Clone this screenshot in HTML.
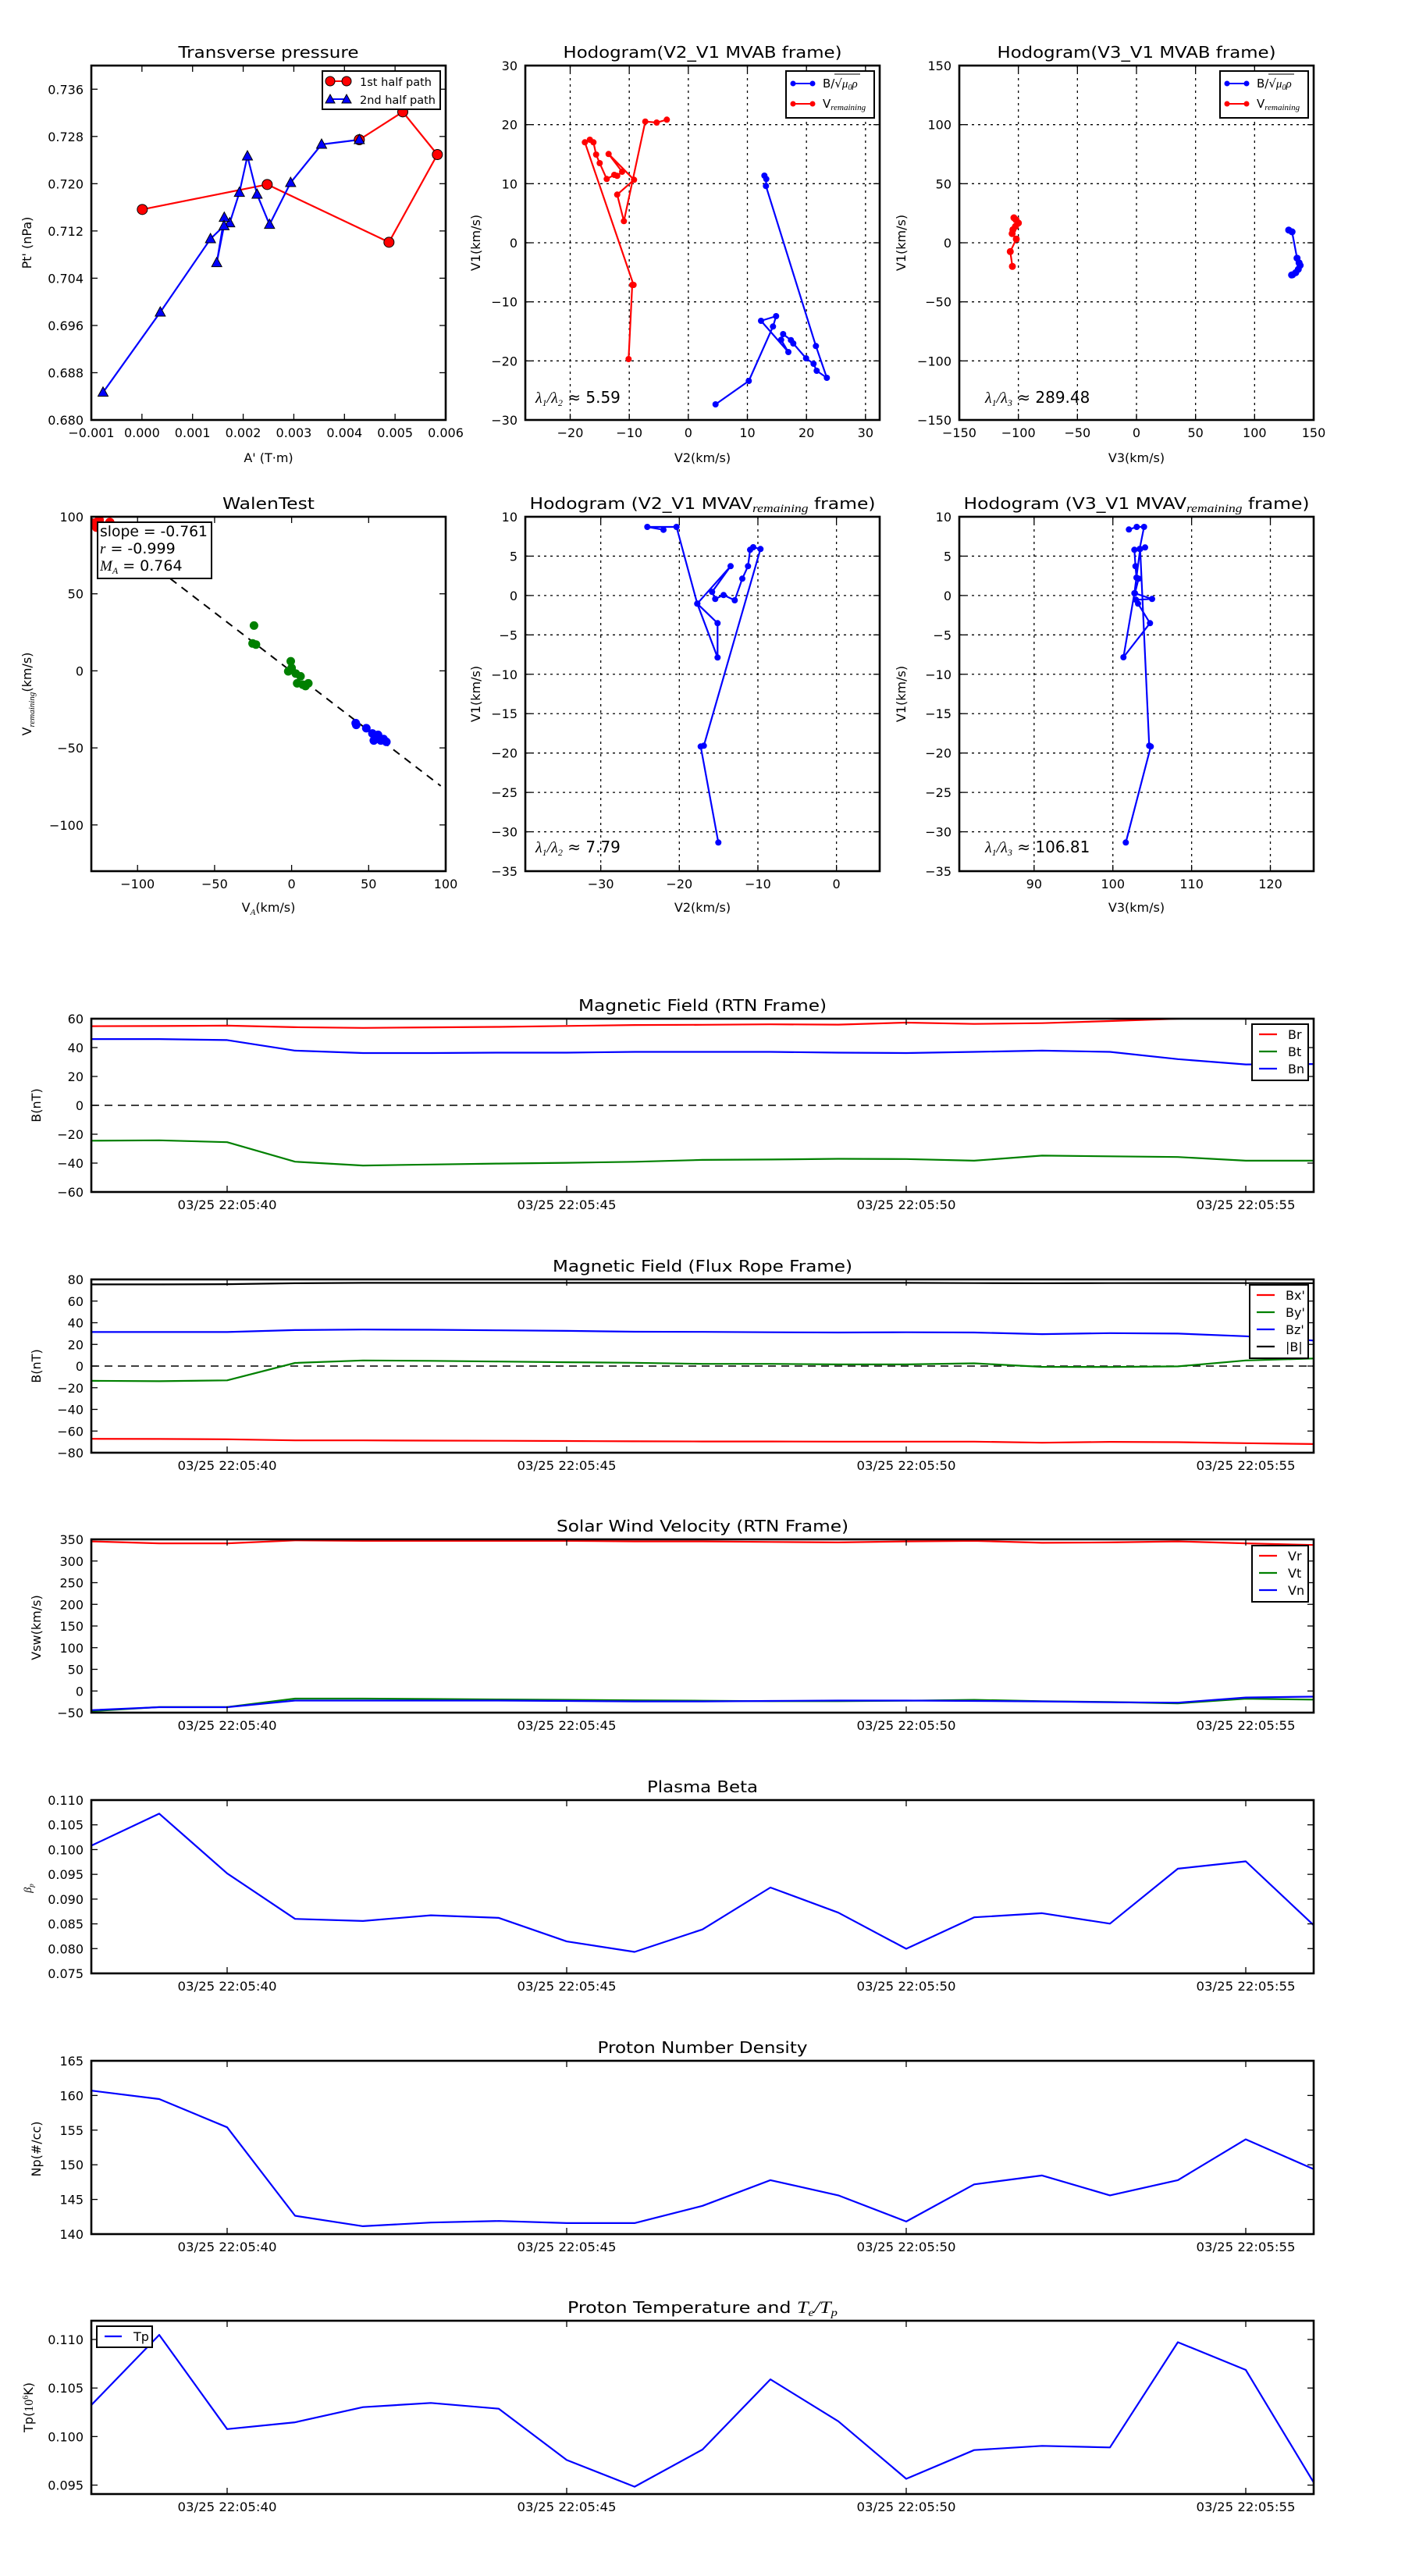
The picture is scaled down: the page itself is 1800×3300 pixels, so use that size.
<!DOCTYPE html>
<html><head><meta charset="utf-8"><style>
html,body{margin:0;padding:0;background:#fff;}
svg{display:block;font-family:"DejaVu Sans","Liberation Sans",sans-serif;}
</style></head><body>
<svg id="s" xmlns="http://www.w3.org/2000/svg" width="1800" height="3300" viewBox="0 0 1800 3300"></svg>
<script>
let S='';let cid=0;
const M='\u2212';
function f(v){return String(v).replace('-',M);}
function L(x1,y1,x2,y2,c,w,d){S+=`<line x1="${x1}" y1="${y1}" x2="${x2}" y2="${y2}" stroke="${c||'#000'}" stroke-width="${w||1}"${d?` stroke-dasharray="${d}"`:''}/>`;}
function T(x,y,t,o){o=o||{};S+=`<text x="${x}" y="${y}" font-size="${o.fs||16}" text-anchor="${o.a||'start'}"${o.tl?` textLength="${o.tl}" lengthAdjust="spacingAndGlyphs"`:''}${o.r?` transform="rotate(-90 ${x} ${y})"`:''}${o.st?` style="${o.st}"`:''}>${t}</text>`;}
function PL(pts,c,w){S+=`<polyline points="${pts.map(p=>p[0].toFixed(1)+','+p[1].toFixed(1)).join(' ')}" fill="none" stroke="${c}" stroke-width="${w||2.2}" stroke-linejoin="round"/>`;}
function clipStart(a){cid++;S+=`<clipPath id="c${cid}"><rect x="${a.x0}" y="${a.y0}" width="${a.x1-a.x0}" height="${a.y1-a.y0}"/></clipPath><g clip-path="url(#c${cid})">`;}
function clipEnd(){S+='</g>';}
function mk(a){a.fx=v=>a.x0+(v-a.xmin)/(a.xmax-a.xmin)*(a.x1-a.x0);a.fy=v=>a.y1-(v-a.ymin)/(a.ymax-a.ymin)*(a.y1-a.y0);return a;}
function frame(a){
  if(a.grid){a.xt.forEach(v=>L(a.fx(v),a.y0,a.fx(v),a.y1,'#000',1.3,'3,5'));a.yt.forEach(v=>L(a.x0,a.fy(v),a.x1,a.fy(v),'#000',1.3,'3,5'));}
}
function spines(a){
  const tl=8;
  a.xt.forEach(v=>{const x=a.fx(v);L(x,a.y1,x,a.y1-tl,'#000',1.3);L(x,a.y0,x,a.y0+tl,'#000',1.3);
    if(a.xlab)T(x,a.y1+22,a.xlab(v),{a:'middle',tl:a.xtl});});
  a.yt.forEach(v=>{const y=a.fy(v);L(a.x0,y,a.x0+tl,y,'#000',1.3);L(a.x1,y,a.x1-tl,y,'#000',1.3);
    T(a.x0-10,y+6,a.ylab(v),{a:'end'});});
  S+=`<rect x="${a.x0}" y="${a.y0}" width="${a.x1-a.x0}" height="${a.y1-a.y0}" fill="none" stroke="#000" stroke-width="2.6"/>`;
}
function title(a,t,w){T((a.x0+a.x1)/2,a.y0-10,t,{a:'middle',fs:20,tl:w});}

// ---------- Panel 1: Transverse pressure
let a1=mk({x0:117,x1:571,y0:84,y1:538,xmin:-0.001,xmax:0.006,ymin:0.680,ymax:0.740,
 xt:[-0.001,0,0.001,0.002,0.003,0.004,0.005,0.006],yt:[0.680,0.688,0.696,0.704,0.712,0.720,0.728,0.736],
 xlab:v=>f(v.toFixed(3)),ylab:v=>v.toFixed(3)});
title(a1,'Transverse pressure',231);
{const z=p=>[100+p[0]/3,60+p[1]/3];
 const red=[[247,625],[727,529],[1195,751],[1381,414],[1248,250],[1081,357]].map(z);
 const blue=[[1081,357],[936,375],[817,522],[736,683],[688,567],[651,420],[620,560],[583,677],[562,656],[533,830],[561,688],[509,738],[316,1020],[96,1328]].map(z);
 clipStart(a1);
 PL(red,'#f00',2.2);PL(blue,'#00f',2.2);
 red.forEach(p=>S+=`<circle cx="${p[0]}" cy="${p[1]}" r="6.5" fill="#f00" stroke="#000" stroke-width="1"/>`);
 blue.forEach(p=>S+=`<polygon points="${p[0]},${p[1]-7} ${p[0]-6.5},${p[1]+5} ${p[0]+6.5},${p[1]+5}" fill="#00f" stroke="#000" stroke-width="1"/>`);
 clipEnd();}
spines(a1);
S+=`<rect x="413" y="91" width="151" height="49" fill="#fff" stroke="#000" stroke-width="2"/>`;
L(423,104,444,104,'#f00',2);S+=`<circle cx="423" cy="104" r="6" fill="#f00" stroke="#000"/><circle cx="444" cy="104" r="6" fill="#f00" stroke="#000"/>`;
T(461,110,'1st half path',{fs:14,tl:92});
L(423,127,444,127,'#00f',2);S+=`<polygon points="423,121 417,132 429,132" fill="#00f" stroke="#000"/><polygon points="444,121 438,132 450,132" fill="#00f" stroke="#000"/>`;
T(461,133,'2nd half path',{fs:14,tl:97});
T(344,592,"A' (T·m)",{a:'middle'});
T(40,311,"Pt' (nPa)",{a:'middle',r:1});

function dots(pts,c,r){pts.forEach(p=>S+=`<circle cx="${p[0].toFixed(1)}" cy="${p[1].toFixed(1)}" r="${r||4}" fill="${c}"/>`);}
function hlegend(x,y){
 S+=`<rect x="${x}" y="${y}" width="113" height="60" fill="#fff" stroke="#000" stroke-width="2"/>`;
 L(x+9,y+16,x+34,y+16,'#00f',2);dots([[x+9,y+16],[x+34,y+16]],'#00f',3.5);
 S+=`<text x="${x+47}" y="${y+21}" font-size="15">B/√<tspan font-family="Liberation Serif,serif" font-style="italic">μ<tspan font-size="10" dy="3">0</tspan><tspan dy="-3">ρ</tspan></tspan></text>`;
 L(x+62,y+4,x+95,y+4,'#000',1);
 L(x+9,y+42,x+34,y+42,'#f00',2);dots([[x+9,y+42],[x+34,y+42]],'#f00',3.5);
 S+=`<text x="${x+47}" y="${y+47}" font-size="15">V<tspan font-family="Liberation Serif,serif" font-style="italic" font-size="11" dy="3">remaining</tspan></text>`;
}
function lam(x,y,k,val){S+=`<text x="${x}" y="${y}" font-size="20"><tspan font-family="Liberation Serif,serif" font-style="italic">λ<tspan font-size="12" dy="4">1</tspan><tspan dy="-4">/λ</tspan><tspan font-size="12" dy="4">${k}</tspan></tspan><tspan dy="-4"> ≈ ${val}</tspan></text>`;}

// ---------- Panel 2
let a2=mk({x0:673,x1:1127,y0:84,y1:538,xmin:-27.6,xmax:32.4,ymin:-30,ymax:30,grid:1,
 xt:[-20,-10,0,10,20,30],yt:[-30,-20,-10,0,10,20,30],xlab:v=>f(v),ylab:v=>f(v)});
title(a2,'Hodogram(V2_V1 MVAB frame)',357);
frame(a2);
{const z=p=>[660+p[0]/3,60+p[1]/3];
 const red=[[436,1200],[450,915],[455,915],[268,367],[287,357],[301,367],[311,414],[325,447],[352,508],[381,492],[392,496],[411,480],[359,412],[457,511],[392,568],[418,670],[500,287],[544,291],[583,280]].map(z);
 const blue=[[958,495],[965,508],[964,535],[1156,1150],[1198,1272],[1159,1245],[1147,1218],[1118,1197],[1069,1140],[1060,1127],[1030,1104],[1022,1126],[1050,1173],[945,1053],[1003,1035],[991,1075],[898,1284],[770,1374]].map(z);
 clipStart(a2);PL(red,'#f00',2.2);dots(red,'#f00',4);PL(blue,'#00f',2.2);dots(blue,'#00f',4);clipEnd();}
spines(a2);hlegend(1007,91);lam(686,516,2,'5.59');
T(900,592,'V2(km/s)',{a:'middle'});T(615,311,'V1(km/s)',{a:'middle',r:1});

// ---------- Panel 3
let a3=mk({x0:1229,x1:1683,y0:84,y1:538,xmin:-150,xmax:150,ymin:-150,ymax:150,grid:1,
 xt:[-150,-100,-50,0,50,100,150],yt:[-150,-100,-50,0,50,100,150],xlab:v=>f(v),ylab:v=>f(v)});
title(a3,'Hodogram(V3_V1 MVAB frame)',357);
frame(a3);
{const z=p=>[1220+p[0]/3,60+p[1]/3];
 const red=[[237,657],[245,665],[254,677],[243,690],[233,703],[230,718],[246,739],[223,787],[231,844]].map(z);
 const blue=[[1293,704],[1306,711],[1325,812],[1333,830],[1337,840],[1330,855],[1320,868],[1308,876],[1304,877]].map(z);
 clipStart(a3);PL(red,'#f00',2.2);dots(red,'#f00',4.5);PL(blue,'#00f',2.2);dots(blue,'#00f',4.5);clipEnd();}
spines(a3);hlegend(1563,91);lam(1262,516,3,'289.48');
T(1456,592,'V3(km/s)',{a:'middle'});T(1160,311,'V1(km/s)',{a:'middle',r:1});

// ---------- Walen
let a4=mk({x0:117,x1:571,y0:662,y1:1116,xmin:-130,xmax:100,ymin:-130,ymax:100,
 xt:[-100,-50,0,50,100],yt:[-100,-50,0,50,100],xlab:v=>f(v),ylab:v=>f(v)});
title(a4,'WalenTest',118);
{const z=p=>[20+p[0]/2.8,620+p[1]/2.8];
 clipStart(a4);
 const A=z([275,125]),B=z([1525,1083]);L(A[0],A[1],B[0],B[1],'#000',2,'10,8');
 dots([[285,140],[290,155],[338,138],[300,130]].map(z),'#f00',6);
 dots([[855,508],[850,572],[862,576],[987,636],[978,672],[1005,680],[1022,690],[1010,715],[1030,720],[1050,715],[990,660],[1040,725]].map(z),'#008000',5.5);
 dots([[1220,858],[1222,864],[1258,876],[1280,895],[1285,920],[1300,900],[1320,915],[1330,925],[1310,920],[1295,910]].map(z),'#00f',5.5);
 clipEnd();}
spines(a4);
S+=`<rect x="125" y="669" width="146" height="72" fill="#fff" stroke="#000" stroke-width="2"/>`;
T(128,687,'slope = -0.761',{fs:19,tl:138});
S+=`<text x="128" y="709" font-size="19"><tspan font-family="Liberation Serif,serif" font-style="italic">r</tspan> = -0.999</text>`;
S+=`<text x="128" y="731" font-size="19"><tspan font-family="Liberation Serif,serif" font-style="italic">M<tspan font-size="12" dy="4">A</tspan></tspan><tspan dy="-4"> = 0.764</tspan></text>`;
S+=`<text x="344" y="1168" font-size="16" text-anchor="middle">V<tspan font-family="Liberation Serif,serif" font-style="italic" font-size="11" dy="4">A</tspan><tspan dy="-4">(km/s)</tspan></text>`;
S+=`<text x="40" y="889" font-size="16" text-anchor="middle" transform="rotate(-90 40 889)">V<tspan font-family="Liberation Serif,serif" font-style="italic" font-size="11" dy="4">remaining</tspan><tspan dy="-4">(km/s)</tspan></text>`;

// ---------- Panel 5
let a5=mk({x0:673,x1:1127,y0:662,y1:1116,xmin:-39.6,xmax:5.5,ymin:-35,ymax:10,grid:1,
 xt:[-30,-20,-10,0],yt:[-35,-30,-25,-20,-15,-10,-5,0,5,10],xlab:v=>f(v),ylab:v=>f(v)});
S+=`<text x="900" y="652" font-size="20" text-anchor="middle" textLength="443" lengthAdjust="spacingAndGlyphs">Hodogram (V2_V1 MVAV<tspan font-family="Liberation Serif,serif" font-style="italic" font-size="15" dy="4">remaining</tspan><tspan dy="-4"> frame)</tspan></text>`;
frame(a5);
{const z=p=>[660+p[0]/3,640+p[1]/3];
 const b=[[570,116],[508,105],[620,105],[700,400],[778,607],[778,475],[700,400],[828,256],[757,355],[769,382],[801,367],[844,387],[873,304],[895,256],[903,193],[915,183],[943,190],[725,946],[713,949],[781,1318]].map(z);
 clipStart(a5);PL(b,'#00f',2.2);dots(b,'#00f',4);clipEnd();}
spines(a5);lam(686,1092,2,'7.79');
T(900,1168,'V2(km/s)',{a:'middle'});T(615,889,'V1(km/s)',{a:'middle',r:1});

// ---------- Panel 6
let a6=mk({x0:1229,x1:1683,y0:662,y1:1116,xmin:80.5,xmax:125.5,ymin:-35,ymax:10,grid:1,
 xt:[90,100,110,120],yt:[-35,-30,-25,-20,-15,-10,-5,0,5,10],xlab:v=>f(v),ylab:v=>f(v)});
S+=`<text x="1456" y="652" font-size="20" text-anchor="middle" textLength="443" lengthAdjust="spacingAndGlyphs">Hodogram (V3_V1 MVAV<tspan font-family="Liberation Serif,serif" font-style="italic" font-size="15" dy="4">remaining</tspan><tspan dy="-4"> frame)</tspan></text>`;
frame(a6);
{const z=p=>[1220+p[0]/3,640+p[1]/3];
 const b=[[679,115],[709,105],[737,105],[720,190],[741,184],[700,193],[704,256],[708,300],[716,304],[702,360],[768,382],[706,385],[714,400],[760,475],[658,606],[700,360],[722,190],[757,946],[763,949],[667,1318]].map(z);
 clipStart(a6);PL(b,'#00f',2.2);dots(b,'#00f',4);clipEnd();}
spines(a6);lam(1262,1092,3,'106.81');
T(1456,1168,'V3(km/s)',{a:'middle'});T(1160,889,'V1(km/s)',{a:'middle',r:1});

// ---------- Time series
const tl=t=>'03/25 22:05:'+t;
function ts(y0,ymin,ymax,yt,ylab){return mk({x0:117,x1:1683,y0:y0,y1:y0+222,xmin:38,xmax:56,ymin,ymax,xt:[40,45,50,55],yt,xlab:tl,xtl:127,ylab});}
function series(a,vals,c){PL(vals.map((v,i)=>[a.fx(38+i),a.fy(v)]),c,2.2);}
function tleg(x,y,h,items){S+=`<rect x="${x}" y="${y}" width="${1676-x}" height="${h}" fill="#fff" stroke="#000" stroke-width="2"/>`;
 items.forEach((it,i)=>{const yy=y+13+i*22;L(x+9,yy,x+32,yy,it[1],2.2);T(x+46,yy+6,it[0],{fs:16});});}

let b1=ts(1305,-60,60,[-60,-40,-20,0,20,40,60],v=>f(v));
title(b1,'Magnetic Field (RTN Frame)',318);
clipStart(b1);
L(117,b1.fy(0),1683,b1.fy(0),'#000',1.5,'10,7');
series(b1,[54.8,54.9,55.2,54.1,53.6,54,54.3,55,55.6,55.8,56.1,55.9,57.3,56.4,56.9,58.4,60,60.5,60.5],'#f00');
series(b1,[-24.5,-24.2,-25.5,-39,-41.7,-41,-40.3,-39.8,-39.1,-37.8,-37.5,-37,-37.2,-38.3,-34.8,-35.3,-35.8,-38.3,-38.3],'#008000');
series(b1,[45.9,45.9,45.2,37.9,36.2,36.2,36.5,36.5,37,37,37,36.5,36.2,37,37.9,37,32,28.3,28.6],'#00f');
clipEnd();spines(b1);
tleg(1604,1312,72,[['Br','#f00'],['Bt','#008000'],['Bn','#00f']]);
T(52,1416,'B(nT)',{a:'middle',r:1});

let b2=ts(1639,-80,80,[-80,-60,-40,-20,0,20,40,60,80],v=>f(v));
title(b2,'Magnetic Field (Flux Rope Frame)',384);
clipStart(b2);
L(117,b2.fy(0),1683,b2.fy(0),'#000',1.5,'10,7');
series(b2,[-67.2,-67.3,-67.6,-68.6,-68.6,-68.8,-69,-69.2,-69.5,-69.6,-69.6,-69.8,-69.8,-69.8,-70.8,-70,-70.3,-71.2,-72],'#f00');
series(b2,[-13.6,-14,-13.2,2.9,5.2,4.8,4.2,3.5,3,2,2,1.5,1.5,2.5,-0.7,-0.9,-0.3,5.2,7],'#008000');
series(b2,[31.4,31.4,31.4,33.2,33.7,33.5,33,32.5,31.7,31.6,31.2,31,31.2,31,29.5,30.4,30,27.5,23.6],'#00f');
series(b2,[75.4,75.4,75.6,76.5,76.8,76.8,76.8,76.8,76.8,76.8,76.8,76.8,76.8,76.6,76.5,76.6,76.7,76.6,76.5],'#000');
clipEnd();spines(b2);
tleg(1601,1646,94,[["Bx'",'#f00'],["By'",'#008000'],["Bz'",'#00f'],['|B|','#000']]);
T(52,1750,'B(nT)',{a:'middle',r:1});

let b3=ts(1972,-50,350,[-50,0,50,100,150,200,250,300,350],v=>f(v));
title(b3,'Solar Wind Velocity (RTN Frame)',374);
clipStart(b3);
series(b3,[345.4,340.8,340.8,347.7,346.5,346.5,346.5,346.5,345.4,345.4,344,343,345.4,346.5,342,343,345.4,340.8,337],'#f00');
series(b3,[-46.5,-37,-37,-17.6,-17.6,-18.5,-19.5,-20.5,-21.5,-22.5,-23.5,-23.5,-22.5,-20.5,-23.5,-25.5,-28.5,-18,-20],'#008000');
series(b3,[-44.3,-37.3,-37.3,-22,-22,-22,-22,-23,-24,-24,-23,-22,-22,-23,-24,-26,-27,-15,-13],'#00f');
clipEnd();spines(b3);
tleg(1604,1980,72,[['Vr','#f00'],['Vt','#008000'],['Vn','#00f']]);
T(52,2085,'Vsw(km/s)',{a:'middle',r:1});

function zs(a,zy,zt,zb){PL(zy.map((v,i)=>[a.fx(38+i),a.y0+(v-zt)/(zb-zt)*(a.y1-a.y0)]),'#00f',2.2);}
let b4=ts(2306,0.075,0.110,[0.075,0.080,0.085,0.090,0.095,0.100,0.105,0.110],v=>v.toFixed(3));
title(b4,'Plasma Beta',142);
clipStart(b4);zs(b4,[170,109,223,310,314,303,308,353,373,330,250,298,367,307,299,319,214,200,322],83,414);clipEnd();spines(b4);
S+=`<text x="40" y="2419" font-size="14" text-anchor="middle" transform="rotate(-90 40 2419)" font-family="Liberation Serif,serif" font-style="italic">β<tspan font-size="9" dy="3">p</tspan></text>`;

let b5=ts(2640,140,165,[140,145,150,155,160,165],v=>String(v));
title(b5,'Proton Number Density',269);
clipStart(b5);zs(b5,[637,653,707,876,896,889,886,890,890,857,808,837,887,816,799,837,808,730,787],580,911);clipEnd();spines(b5);
T(52,2753,'Np(#/cc)',{a:'middle',r:1});

let b6=ts(2973,0.09408,0.11193,[0.095,0.100,0.105,0.110],v=>v.toFixed(3));
S+=`<text x="900" y="2963" font-size="20" text-anchor="middle" textLength="346" lengthAdjust="spacingAndGlyphs">Proton Temperature and <tspan font-family="Liberation Serif,serif" font-style="italic" font-size="22">T<tspan font-size="14" dy="4">e</tspan><tspan dy="-4">/T</tspan><tspan font-size="14" dy="4">p</tspan></tspan></text>`;
clipStart(b6);zs(b6,[1240,1106,1286,1273,1244,1236,1247,1345,1396,1325,1191,1271,1381,1326,1318,1321,1120,1173,1388],1079,1410);clipEnd();spines(b6);
S+=`<rect x="124" y="2980" width="71" height="27" fill="#fff" stroke="#000" stroke-width="2"/>`;
L(134,2993,156,2993,'#00f',2.2);T(171,2999,'Tp',{fs:16});
S+=`<text x="42" y="3084" font-size="16" text-anchor="middle" transform="rotate(-90 42 3084)">Tp(<tspan font-family="Liberation Serif,serif">10<tspan font-size="10" dy="-6">6</tspan></tspan><tspan dy="6">K)</tspan></text>`;

document.getElementById('s').innerHTML=S;
</script>
</body></html>
